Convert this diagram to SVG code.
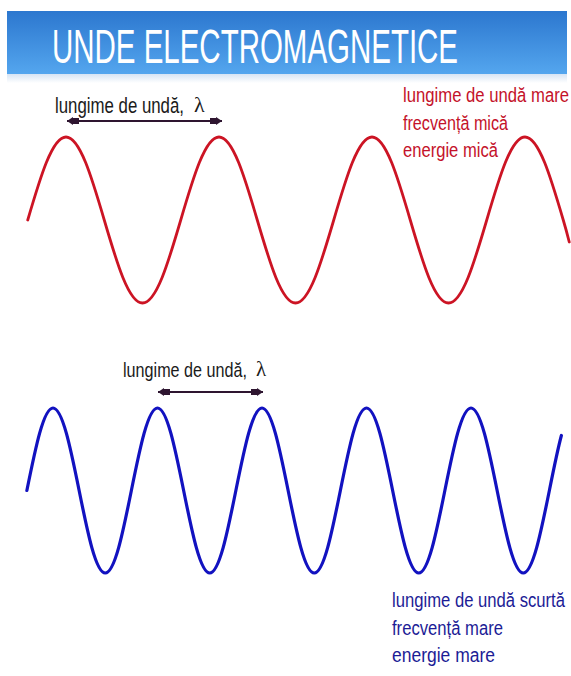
<svg xmlns="http://www.w3.org/2000/svg" width="571" height="676" viewBox="0 0 571 676">
<style>
.lbl{font-family:"Liberation Sans",Arial,sans-serif;fill:#1a1a1a;}
.lam{font-family:"Liberation Serif","Times New Roman",serif;fill:#1a1a1a;}
.red{font-family:"Liberation Sans",Arial,sans-serif;fill:#c4122a;font-size:20px;}
.blu{font-family:"Liberation Sans",Arial,sans-serif;fill:#1c1c96;font-size:20px;}
.wave{fill:none;stroke-linejoin:round;stroke-linecap:round;}
.dim{stroke:#2e1530;stroke-width:2;fill:none;}
</style>
<defs>
<linearGradient id="hdr" x1="0" y1="0" x2="0" y2="1">
<stop offset="0" stop-color="#2c77cf"/>
<stop offset="1" stop-color="#54a6ee"/>
</linearGradient>
<linearGradient id="fade" x1="0" y1="0" x2="0" y2="1">
<stop offset="0" stop-color="#d6e4f4"/>
<stop offset="1" stop-color="#ffffff"/>
</linearGradient>
<marker id="ah" viewBox="0 0 12 8" refX="12" refY="4" markerWidth="12" markerHeight="8" markerUnits="userSpaceOnUse" orient="auto-start-reverse">
<path d="M0,1 L6,1 L6,0 L12,4 L6,8 L6,7 L0,7 Z" fill="#2e1530"/>
</marker>
</defs>
<rect width="571" height="676" fill="#ffffff"/>
<g id="header">
<rect x="7" y="11" width="560" height="63" fill="url(#hdr)"/>
<rect x="7" y="74" width="560" height="9" fill="url(#fade)"/>
<text x="52" y="63" font-family="'Liberation Sans',Arial,sans-serif" font-size="48" fill="#ffffff" textLength="406" lengthAdjust="spacingAndGlyphs">UNDE ELECTROMAGNETICE</text>
</g>
<g id="red-wave">
<path class="wave" stroke="#cc1424" stroke-width="2.8" d="M27.75,220 c12.47,-42.52 24.41,-83 38.25,-83 c13.84,0 25.78,40.48 38.25,83 c12.47,42.52 24.41,83 38.25,83 c13.840,0 25.78,-40.48 38.25,-83 c12.47,-42.52 24.41,-83 38.25,-83 c13.84,0 25.78,40.48 38.25,83 c12.47,42.52 24.41,83 38.25,83 c13.84,0 25.78,-40.48 38.25,-83 c12.47,-42.52 24.41,-83 38.25,-83 c13.84,0 25.78,40.48 38.25,83 c12.47,42.52 24.41,83 38.25,83 c13.84,0 25.78,-40.48 38.25,-83 c12.47,-42.52 24.41,-83 38.25,-83 c13.84,0 25.78,40.48 38.25,83 c3,10 5,18 6,22"/>
</g>
<g id="blue-wave">
<path class="wave" stroke="#1212c0" stroke-width="3.2" d="M26.875,490.5 c8.52,-42.26 16.67,-82.5 26.125,-82.5 c9.455,0 17.605,40.24 26.125,82.5 c8.52,42.26 16.67,82.5 26.125,82.5 c9.455,0 17.605,-40.24 26.125,-82.5 c8.52,-42.26 16.67,-82.5 26.125,-82.5 c9.455,0 17.605,40.24 26.125,82.5 c8.52,42.26 16.67,82.5 26.125,82.5 c9.455,0 17.605,-40.24 26.125,-82.5 c8.52,-42.26 16.67,-82.5 26.125,-82.5 c9.455,0 17.605,40.24 26.125,82.5 c8.52,42.26 16.67,82.5 26.125,82.5 c9.455,0 17.605,-40.24 26.125,-82.5 c8.52,-42.26 16.67,-82.5 26.125,-82.5 c9.455,0 17.605,40.24 26.125,82.5 c8.52,42.26 16.67,82.5 26.125,82.5 c9.455,0 17.605,-40.24 26.125,-82.5 c8.52,-42.26 16.67,-82.5 26.125,-82.5 c9.455,0 17.605,40.24 26.125,82.5 c8.52,42.26 16.67,82.5 26.125,82.5 c9.455,0 17.605,-40.24 26.125,-82.5 c4,-20 8,-40 12,-55"/>
</g>
<g id="connectors">
<line class="dim" x1="67" y1="121" x2="222" y2="121" marker-start="url(#ah)" marker-end="url(#ah)"/>
<line class="dim" x1="158" y1="392" x2="263" y2="392" marker-start="url(#ah)" marker-end="url(#ah)"/>
</g>
<g id="label-red-lambda">
<text class="lbl" x="55" y="113" font-size="22" textLength="129" lengthAdjust="spacingAndGlyphs">lungime de undă,</text>
<text class="lam" x="194" y="112" font-size="22">λ</text>
</g>
<g id="label-blue-lambda">
<text class="lbl" x="123" y="377" font-size="21" textLength="124" lengthAdjust="spacingAndGlyphs">lungime de undă,</text>
<text class="lam" x="256" y="376" font-size="21">λ</text>
</g>
<g id="red-text">
<text class="red" x="403" y="102" textLength="166" lengthAdjust="spacingAndGlyphs">lungime de undă mare</text>
<text class="red" x="403" y="130" textLength="105" lengthAdjust="spacingAndGlyphs">frecvență mică</text>
<text class="red" x="403" y="157" textLength="95" lengthAdjust="spacingAndGlyphs">energie mică</text>
</g>
<g id="blue-text">
<text class="blu" x="392" y="607" textLength="173" lengthAdjust="spacingAndGlyphs">lungime de undă scurtă</text>
<text class="blu" x="392" y="635" textLength="111" lengthAdjust="spacingAndGlyphs">frecvență mare</text>
<text class="blu" x="392" y="662" textLength="103" lengthAdjust="spacingAndGlyphs">energie mare</text>
</g>
</svg>
